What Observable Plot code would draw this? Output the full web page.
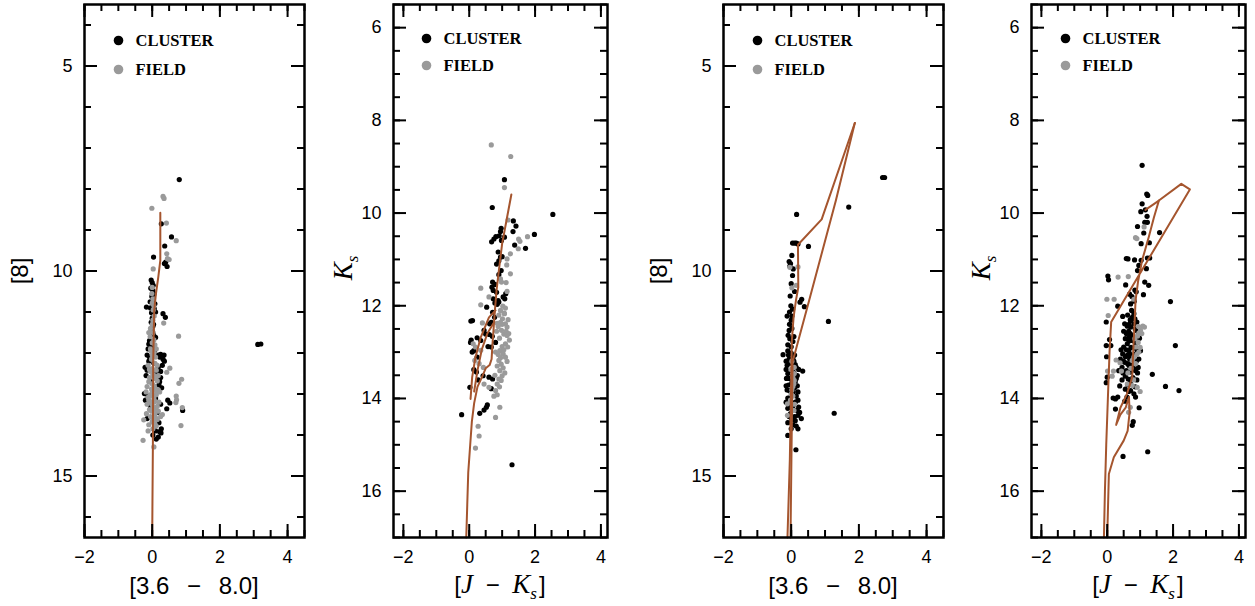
<!DOCTYPE html>
<html>
<head>
<meta charset="utf-8">
<script src="https://cdn.jsdelivr.net/npm/d3@7"></script>
<script src="https://cdn.jsdelivr.net/npm/@observablehq/plot@0.6"></script>
<style>
  html, body { margin: 0; padding: 0; background: #fff; }
  #wrap { position: relative; width: 1255px; height: 606px; overflow: hidden; background: #fff; }
  .panel { position: absolute; top: 0; }
  #overlay { position: absolute; left: 0; top: 0; pointer-events: none; }
</style>
</head>
<body>
<div id="wrap"></div>
<script>
// ---------------- DATA ----------------
const legendLabels = ["CLUSTER", "FIELD"];
const xTicks = [-2, 0, 2, 4];
const p8Ticks = [5, 10, 15];
const pKTicks = [6, 8, 10, 12, 14, 16];

// Panel 1: [8] vs [3.6 - 8.0]
const p1Cluster = [[0.80,7.77],[0.27,8.85],[0.57,9.17],[0.37,9.39],[0.04,9.66],[0.40,9.78],[0.44,9.89],[0.36,9.82],
  [-0.03,10.22],[0.00,10.28],[0.03,10.35],[-0.04,10.42],[0.02,10.48],[0.05,10.56],[-0.01,10.62],[0.03,10.70],
  [-0.17,10.88],[0.06,10.92],[0.32,11.04],[0.39,11.13],[-0.02,11.02],[0.00,11.15],[-0.03,11.25],[0.02,11.35],
  [-0.01,11.45],[0.04,11.55],[0.10,11.62],[-0.08,11.70],[-0.10,11.78],[0.00,11.85],[0.06,11.95],[0.18,12.05],
  [0.25,12.03],[0.32,12.15],[0.36,12.20],[0.22,12.10],[-0.21,12.35],[-0.15,12.42],[0.12,12.50],[0.15,12.60],
  [-0.05,12.70],[0.20,12.78],[-0.23,12.99],[-0.12,13.05],[0.10,13.10],[0.52,13.22],[0.43,13.36],[0.90,13.40],
  [0.46,13.15],[-0.05,13.30],[0.15,13.45],[0.05,13.60],[0.20,13.70],[0.26,13.95],[0.27,13.85],[0.10,13.90],
  [0.18,14.05],[0.22,13.92],[3.12,11.79],[3.21,11.78],[-0.10,12.20],[0.25,12.60],[0.10,11.00],[0.08,10.80],
  [-0.12,11.90],[-0.15,12.05],[-0.08,12.10],[0.05,12.25],[0.18,12.35],[0.25,12.45],[-0.18,12.55],[0.22,12.70],
  [0.28,12.85],[-0.20,13.15],[0.25,13.25],[-0.15,13.60],[0.12,14.10],[0.02,14.00],[0.30,12.30],[0.35,12.05],
  [-0.05,10.90],[0.04,11.30],[-0.06,10.75]];
const p1Field = [[0.32,8.18],[0.35,8.23],[-0.01,8.47],[0.42,8.83],[0.71,9.26],[0.43,9.58],[0.45,9.70],[0.50,9.72],
  [0.03,9.95],[-0.01,10.55],[0.02,10.68],[0.00,10.78],[0.05,10.85],[0.34,11.27],[0.78,11.59],[0.00,11.30],
  [0.03,11.50],[0.00,11.75],[-0.05,11.90],[0.05,12.00],[0.10,12.10],[-0.02,12.15],[0.08,12.25],[-0.12,12.30],
  [0.00,12.38],[0.12,12.42],[0.52,12.37],[0.43,12.47],[0.87,12.64],[0.79,12.74],[0.05,12.55],[-0.08,12.60],
  [0.15,12.68],[0.00,12.75],[-0.15,12.82],[0.08,12.85],[0.18,12.90],[0.00,12.95],[-0.06,13.02],[0.12,13.02],
  [0.05,13.12],[-0.10,13.15],[0.20,13.20],[0.00,13.25],[0.72,13.14],[0.70,13.21],[0.71,13.05],[0.89,13.33],
  [0.10,13.35],[-0.02,13.42],[0.08,13.50],[-0.17,13.48],[-0.25,13.63],[0.25,13.55],[0.15,13.62],[0.00,13.68],
  [0.85,13.77],[0.12,13.78],[-0.27,14.13],[0.05,14.29],[-0.12,13.90],[0.30,13.50],[0.06,11.10],[-0.06,11.60],
  [-0.05,12.45],[0.02,12.52],[0.10,12.62],[-0.10,12.70],[0.05,12.80],[-0.02,12.88],[0.12,12.92],[0.03,13.05],
  [-0.12,13.08],[0.08,13.18],[-0.04,13.20],[0.15,13.30],[0.02,13.32],[-0.08,13.38],[0.05,13.42],[0.18,13.42],
  [-0.05,13.55],[0.10,13.58],[0.02,13.62],[-0.10,13.75],[0.08,13.72],[0.02,13.85],[0.15,12.30],[-0.08,12.40],
  [0.00,12.05],[0.12,11.90],[-0.03,11.95],[0.08,11.80],[-0.05,11.40],[0.02,11.20],[0.05,11.68],[-0.10,11.50],
  [0.03,10.95],[0.00,10.40],[0.18,12.55],[0.22,12.95],[-0.15,13.25],[-0.18,12.95]];
const p1Iso = [[0.24,8.58],[0.24,9.30],[0.24,9.74],[0.18,10.15],[0.11,10.56],[0.06,10.96],[0.03,12.18],[0.02,14.30],[0.00,16.50]];

// Panel 2: Ks vs [J - Ks]
const p2Cluster = [[1.07,9.28],[0.70,9.88],[2.54,10.03],[1.34,10.17],[1.42,10.28],[0.97,10.33],[0.95,10.40],[1.33,10.40],
  [1.98,10.46],[0.81,10.51],[0.91,10.49],[0.75,10.56],[0.68,10.62],[0.98,10.59],[1.07,10.52],[1.38,10.69],
  [1.71,10.76],[0.88,10.84],[0.95,10.95],[1.00,10.94],[0.83,11.10],[0.90,11.03],[0.97,11.24],[0.90,11.33],
  [0.71,11.49],[0.78,11.54],[0.69,11.60],[0.73,11.67],[0.83,11.71],[1.11,11.74],[1.03,11.81],[0.73,11.85],
  [0.88,11.89],[1.08,11.85],[0.53,12.03],[0.78,11.94],[0.85,11.97],[0.90,11.92],[0.71,12.14],[0.77,12.25],
  [0.05,12.33],[0.10,12.32],[0.62,12.39],[0.67,12.36],[0.45,12.53],[0.50,12.61],[0.06,12.74],[0.04,12.79],
  [0.24,12.69],[0.35,12.75],[0.61,12.62],[0.70,12.66],[0.80,12.79],[0.67,12.89],[0.57,12.88],[0.14,12.97],
  [0.09,13.00],[0.24,13.11],[0.14,13.38],[0.22,13.43],[0.42,13.51],[0.60,13.54],[0.27,13.60],[0.71,13.58],
  [0.02,13.76],[0.67,13.79],[0.55,14.14],[0.52,14.19],[0.45,14.25],[0.32,14.32],[-0.23,14.35],[1.30,15.43]];
const p2Field = [[0.67,8.53],[1.26,8.78],[1.07,9.45],[1.18,10.15],[1.77,10.51],[1.50,10.56],[1.54,10.61],[1.49,10.77],
  [1.25,10.88],[1.15,10.99],[1.14,11.12],[1.25,11.31],[0.95,11.42],[0.98,11.49],[1.12,11.50],[0.35,11.62],
  [1.15,11.69],[0.60,11.81],[0.35,11.98],[1.02,12.01],[1.06,12.16],[0.95,12.10],[1.07,12.17],[1.01,12.28],
  [0.40,12.37],[0.85,12.38],[0.95,12.36],[1.10,12.39],[1.15,12.46],[0.98,12.53],[1.05,12.61],[1.15,12.64],
  [1.22,12.74],[1.10,12.82],[1.00,12.88],[1.17,12.89],[0.93,12.97],[1.03,13.04],[1.10,13.11],[0.90,13.18],
  [0.97,13.26],[1.03,13.34],[0.93,13.40],[1.00,13.51],[0.90,13.58],[0.97,13.61],[0.85,13.69],[0.80,13.83],
  [0.85,13.92],[0.12,12.82],[0.19,12.89],[0.35,12.96],[0.17,13.18],[0.30,13.25],[0.43,13.33],[0.45,13.69],
  [0.60,13.76],[0.93,14.19],[0.80,14.41],[0.27,14.60],[0.30,14.81],[0.19,15.07],
  [0.88,12.45],[1.12,12.55],[0.92,12.70],[1.20,12.60],[1.05,12.95],[0.88,13.05],[1.15,13.20],[0.95,13.12],
  [1.08,13.45],[0.85,13.30],[0.92,13.75],[1.00,12.40],[1.18,12.30],[0.90,12.20],[1.10,12.05],[0.78,13.50],
  [0.75,13.95],[0.83,12.55],[0.80,13.00]];
const p2IsoA = [[1.28,9.60],[1.15,10.09],[1.00,10.66],[0.90,11.24],[0.83,11.67],[0.78,12.10],[0.74,12.50],[0.70,12.90],
  [0.68,13.15],[0.62,13.28],[0.50,13.35],[0.38,13.55],[0.25,13.75],[0.15,14.10],[0.08,14.50],[0.03,15.00],
  [-0.03,15.60],[-0.06,16.30],[-0.09,17.00]];
const p2IsoB = [[0.80,12.10],[0.60,12.25],[0.35,12.68],[0.19,13.11],[0.09,13.54],[0.04,14.01]];
const p2IsoC = [[0.76,12.35],[0.55,12.60],[0.38,12.95],[0.25,13.40],[0.15,13.85]];

// Panel 3: [8] vs [3.6 - 8.0]
const p3Cluster = [[2.70,7.72],[2.76,7.72],[1.70,8.44],[0.16,8.62],[0.04,9.32],[0.10,9.32],[0.15,9.32],[0.20,9.34],
  [0.51,9.40],[0.02,9.62],[-0.06,9.77],[-0.02,9.82],[-0.04,9.88],[0.06,9.95],[0.04,10.11],[0.00,10.31],
  [-0.03,10.61],[0.31,10.69],[0.26,10.76],[0.39,10.87],[-0.01,10.85],[0.04,10.93],[-0.05,11.00],[0.02,11.10],
  [1.10,11.23],[-0.06,11.45],[-0.09,11.57],[-0.04,11.65],[0.05,11.72],[-0.24,12.04],[-0.10,11.95],[0.00,12.00],
  [0.10,12.05],[-0.06,12.15],[0.08,12.20],[-0.12,12.30],[0.15,12.35],[0.34,12.44],[0.22,12.40],[-0.10,12.50],
  [0.05,12.55],[-0.14,12.62],[0.12,12.70],[-0.08,12.78],[0.18,12.80],[-0.12,12.90],[0.06,12.95],[0.15,13.05],
  [-0.10,13.10],[0.20,13.15],[0.02,13.22],[-0.05,13.30],[0.22,13.32],[0.10,13.40],[-0.02,13.48],[0.25,13.45],
  [0.10,13.55],[0.30,13.60],[0.12,13.65],[0.05,13.75],[-0.10,14.01],[0.14,14.36],[1.27,13.47],[0.18,12.55],
  [-0.15,12.20],[0.00,11.85],
  [-0.08,12.05],[0.05,12.12],[-0.02,12.25],[0.12,12.28],[-0.15,12.40],[0.00,12.42],[0.08,12.48],[-0.06,12.62],
  [0.15,12.62],[0.02,12.72],[-0.15,12.80],[0.10,12.85],[-0.05,12.92],[0.20,12.95],[0.00,13.05],[-0.15,13.20],
  [0.12,13.20],[0.05,13.30],[-0.10,13.35],[0.18,13.40],[-0.06,13.55],[0.20,13.52],[0.02,13.62],[-0.10,13.70],
  [0.15,13.78],[0.20,13.85],[0.00,13.85],[-0.05,11.30],[0.02,11.40],[-0.10,11.80],[0.08,11.60],[0.00,11.20],
  [-0.12,11.10],[0.10,10.50]];
const p3Field = [[0.20,9.90],[-0.04,9.91],[0.02,10.41],[0.15,10.35],[0.09,12.35],[0.09,12.50],[0.09,12.67],
  [0.02,12.90],[-0.11,13.24],[-0.11,13.52],[0.05,12.60],[0.00,13.00],[0.08,12.75],[0.10,13.25],
  [0.00,12.40],[0.05,12.82],[-0.02,13.15],[0.05,13.05],[0.02,12.20],[0.08,13.40]];
const p3IsoA = [[1.88,6.39],[0.90,8.74],[0.20,9.36],[0.21,10.40],[0.14,10.72],[0.07,11.13],[0.02,11.70],[-0.04,14.60],[-0.11,16.50]];
const p3IsoB = [[1.88,6.39],[1.32,8.28],[0.53,10.72],[0.04,12.22],[-0.02,16.50]];

// Panel 4: Ks vs [J - Ks]
const p4Cluster = [[1.06,8.97],[1.20,9.59],[1.23,9.62],[1.06,9.80],[1.02,9.97],[1.16,9.93],[1.21,10.07],[1.14,10.20],
  [1.22,10.20],[0.92,10.29],[1.11,10.43],[1.59,10.42],[1.03,10.66],[1.28,10.64],[0.58,10.98],[0.63,10.99],
  [0.83,11.01],[1.03,11.02],[1.22,10.97],[1.29,10.97],[0.96,11.13],[1.19,11.20],[0.92,11.24],[0.02,11.36],
  [0.04,11.44],[1.14,11.49],[1.26,11.56],[0.56,11.55],[0.84,11.66],[0.88,11.70],[1.10,11.76],[1.92,11.91],
  [0.71,11.96],[0.32,12.01],[0.74,12.10],[0.81,12.17],[0.76,12.25],[0.84,12.28],[0.71,12.32],[0.81,12.39],
  [0.47,12.23],[-0.03,12.35],[0.53,12.39],[0.61,12.44],[0.71,12.46],[0.07,12.73],[-0.03,12.86],[0.11,12.86],
  [2.07,12.86],[0.55,12.71],[0.66,12.76],[0.61,12.82],[0.50,12.89],[0.66,12.97],[0.47,13.04],[0.61,13.07],
  [0.40,13.15],[0.53,13.22],[0.66,13.29],[0.45,13.33],[0.58,13.40],[0.71,13.43],[0.86,13.40],[0.94,13.33],
  [0.96,13.15],[1.01,12.97],[-0.02,13.10],[0.55,13.52],[0.64,13.58],[1.37,13.48],[-0.03,13.66],[0.00,13.54],
  [0.38,13.73],[0.71,13.83],[0.81,13.90],[0.86,13.97],[1.77,13.74],[2.18,13.83],[0.18,13.99],[0.25,14.01],
  [0.32,13.97],[0.60,13.97],[0.53,14.06],[0.25,14.23],[0.97,14.20],[0.79,14.50],[0.76,14.58],[1.23,15.15],
  [0.48,15.25],[0.70,12.60],[0.78,12.65],[0.65,12.55],[0.85,12.50],[0.58,12.60],[0.72,12.90],[0.80,13.10],
  [0.88,13.20],[0.55,13.10],[0.75,13.25],[0.62,13.70],[0.45,13.60],[0.35,13.40],[0.42,12.95],[0.68,13.15],
  [0.78,13.55],[0.90,13.60],[0.98,12.70],[0.92,12.55],[0.75,11.80],[0.82,11.90],[0.68,11.75],
  [0.62,12.20],[0.70,12.30],[0.66,12.68],[0.74,12.75],[0.85,12.80],[0.90,12.95],[0.58,12.95],[0.70,13.05],
  [0.84,13.05],[0.50,13.20],[0.62,13.25],[0.80,13.35],[0.70,13.65],[0.55,13.80],[0.85,13.75],[0.65,13.85],
  [0.48,13.45],[0.74,13.35],[0.66,12.40],[0.90,12.35],[0.92,13.45],[0.50,12.55]];
const p4Field = [[1.12,10.30],[0.86,10.53],[0.90,10.55],[0.33,11.38],[0.64,11.37],[-0.01,11.86],[0.21,11.86],
  [0.81,11.86],[0.03,12.21],[1.08,12.44],[1.13,12.46],[1.01,12.53],[0.96,12.59],[0.84,12.71],[0.94,12.79],
  [0.88,12.89],[0.96,13.00],[0.81,13.11],[0.76,13.18],[0.86,13.25],[0.27,13.17],[0.39,13.23],[0.01,13.41],
  [0.19,13.41],[0.43,13.41],[0.63,13.45],[0.15,13.52],[0.61,13.69],[0.76,13.72],[0.91,13.76],[0.70,14.19],
  [1.00,13.85],[0.65,14.30],[0.92,12.65],[1.05,12.60],[1.00,12.90],[0.90,13.05],[0.72,13.35],[0.80,13.60],[0.95,12.45]];
const p4IsoA = [[-0.10,17.00],[-0.07,16.00],[-0.03,15.00],[0.02,14.00],[0.07,13.00],[0.12,12.35],[2.51,9.49],
  [2.25,9.37],[1.57,9.73],[1.42,10.09],[1.26,10.52],[1.06,11.02],[0.94,11.46],[0.86,11.89],[0.83,12.39],
  [0.79,12.97],[0.76,13.54],[0.60,13.90],[0.40,14.20],[0.27,14.57],[0.40,14.35],[0.56,14.20],[0.66,13.97],
  [0.68,14.30],[0.62,14.70],[0.50,14.91],[0.20,15.27],[0.05,15.63],[0.00,17.00]];
const p4IsoB = [[1.16,9.93],[1.57,9.73]];

// ---------------- STYLE ----------------
const CLUSTER_COLOR = "#000000";
const FIELD_COLOR = "#9a9a9a";
const ISO_COLOR = "#a5552e";
const H = 533;
const fmtTick = d => (d < 0 ? "\u2212" : "") + Math.abs(d);

function makePanel(o) {
  const ml = 84, mr = 6;
  const W = o.innerW;
  const xMinor = d3.range(-2, o.xDomain[1] + 1e-9, 0.5).filter(v => v > o.xDomain[0] - 1e-9);
  const yMinor = d3.range(Math.ceil(o.yDomain[0] / o.yStep) * o.yStep, o.yDomain[1] + 1e-9, o.yStep);
  const P = () => ({x: d => d[0], y: d => d[1]});
  const legendFont = {fontFamily: "'Liberation Serif', 'DejaVu Serif', serif", fontWeight: "bold", fontSize: 16.5, fill: "black"};
  const marks = [
    Plot.dot(o.cluster, {...P(), r: 2.6, fill: CLUSTER_COLOR}),
    Plot.dot(o.field, {...P(), r: 2.6, fill: FIELD_COLOR}),
    ...o.isos.map(iso => Plot.line(iso, {...P(), stroke: ISO_COLOR, strokeWidth: 2, curve: "linear"})),
    // minor ticks
    Plot.tickX(xMinor, {x: d => d, insetTop: H - 7, strokeWidth: 2}),
    Plot.tickX(xMinor, {x: d => d, insetBottom: H - 7, strokeWidth: 2}),
    Plot.tickY(yMinor, {y: d => d, insetRight: W - 7, strokeWidth: 2}),
    Plot.tickY(yMinor, {y: d => d, insetLeft: W - 7, strokeWidth: 2}),
    // major ticks
    Plot.tickX(xTicks, {x: d => d, insetTop: H - 13, strokeWidth: 2}),
    Plot.tickX(xTicks, {x: d => d, insetBottom: H - 13, strokeWidth: 2}),
    Plot.tickY(o.yTicks, {y: d => d, insetRight: W - 13, strokeWidth: 2}),
    Plot.tickY(o.yTicks, {y: d => d, insetLeft: W - 13, strokeWidth: 2}),
    Plot.frame({stroke: "black", strokeWidth: 2.5}),
    // legend
    Plot.dot([legendLabels[0]], {frameAnchor: "top-left", dx: o.leg.dx, dy: o.leg.dy1, r: 4.8, fill: CLUSTER_COLOR}),
    Plot.dot([legendLabels[1]], {frameAnchor: "top-left", dx: o.leg.dx, dy: o.leg.dy2, r: 4.8, fill: FIELD_COLOR}),
    Plot.text([legendLabels[0]], {frameAnchor: "top-left", lineAnchor: "middle", text: d => d, dx: o.leg.dx + 17, dy: o.leg.dy1, textAnchor: "start", ...legendFont}),
    Plot.text([legendLabels[1]], {frameAnchor: "top-left", lineAnchor: "middle", text: d => d, dx: o.leg.dx + 17, dy: o.leg.dy2, textAnchor: "start", ...legendFont})
  ];
  const svg = Plot.plot({
    width: ml + W + mr, height: 606,
    marginLeft: ml, marginRight: mr, marginTop: 4, marginBottom: 69,
    x: {domain: o.xDomain, ticks: xTicks, tickSize: 0, tickPadding: 13, label: null, tickFormat: fmtTick},
    y: {domain: o.yDomain, reverse: true, ticks: o.yTicks, tickSize: 0, tickPadding: 12, label: null, tickFormat: fmtTick},
    style: {fontFamily: "'Liberation Sans', Arial, sans-serif", fontSize: "18px", color: "black", background: "transparent", overflow: "visible"},
    marks
  });
  const div = document.createElement("div");
  div.className = "panel";
  div.style.left = (o.frameLeft - ml) + "px";
  div.appendChild(svg);
  document.getElementById("wrap").appendChild(div);
}

const panels = [
  {frameLeft: 84, innerW: 220, xDomain: [-2, 4.5], yDomain: [3.5, 16.5], yTicks: p8Ticks, yStep: 1,
   cluster: p1Cluster, field: p1Field, isos: [p1Iso], leg: {dx: 34, dy1: 36, dy2: 65}, kind: "irac"},
  {frameLeft: 393, innerW: 214, xDomain: [-2.3, 4.2], yDomain: [5.5, 17], yTicks: pKTicks, yStep: 0.5,
   cluster: p2Cluster, field: p2Field, isos: [p2IsoA, p2IsoB, p2IsoC], leg: {dx: 33, dy1: 34, dy2: 61}, kind: "jk"},
  {frameLeft: 723, innerW: 220, xDomain: [-2, 4.5], yDomain: [3.5, 16.5], yTicks: p8Ticks, yStep: 1,
   cluster: p3Cluster, field: p3Field, isos: [p3IsoA, p3IsoB], leg: {dx: 34, dy1: 36, dy2: 65}, kind: "irac"},
  {frameLeft: 1031, innerW: 214, xDomain: [-2.3, 4.2], yDomain: [5.5, 17], yTicks: pKTicks, yStep: 0.5,
   cluster: p4Cluster, field: p4Field, isos: [p4IsoA, p4IsoB], leg: {dx: 34, dy1: 34, dy2: 61}, kind: "jk"}
];
panels.forEach(makePanel);

// ---------------- AXIS TITLES (overlay) ----------------
const SANS = "'Liberation Sans', Arial, sans-serif";
const SERIF = "'Liberation Serif', 'Times New Roman', serif";
const ov = d3.select("#wrap").append("svg").attr("id", "overlay").attr("width", 1255).attr("height", 606);

panels.forEach(p => {
  const cx = p.frameLeft + p.innerW / 2;
  if (p.kind === "irac") {
    ov.append("text").attr("x", cx).attr("y", 594).attr("text-anchor", "middle")
      .attr("font-family", SANS).attr("font-size", 24).style("word-spacing", "11px").style("white-space", "pre")
      .text("[3.6 \u2212 8.0]");
    ov.append("text").attr("transform", `translate(${p.frameLeft - 56},271) rotate(-90)`).attr("text-anchor", "middle")
      .attr("font-family", SANS).attr("font-size", 24).text("[8]");
  } else {
    const t = ov.append("text").attr("x", cx).attr("y", 593).attr("text-anchor", "middle")
      .attr("font-family", SANS).attr("font-size", 24).style("white-space", "pre");
    t.append("tspan").text("[");
    t.append("tspan").attr("font-family", SERIF).attr("font-style", "italic").attr("font-size", 27).text("J");
    t.append("tspan").style("word-spacing", "6px").text(" \u2212 ");
    t.append("tspan").attr("font-family", SERIF).attr("font-style", "italic").attr("font-size", 27).text("K");
    t.append("tspan").attr("font-family", SERIF).attr("font-style", "italic").attr("font-size", 17).attr("dy", 6).text("s");
    t.append("tspan").attr("dy", -6).attr("dx", 2).text("]");
    const k = ov.append("text").attr("transform", `translate(${p.frameLeft - 41},268) rotate(-90)`).attr("text-anchor", "middle")
      .attr("font-family", SERIF).attr("font-style", "italic");
    k.append("tspan").attr("font-size", 27).text("K");
    k.append("tspan").attr("font-size", 17).attr("dy", 6).text("s");
  }
});
</script>
</body>
</html>
